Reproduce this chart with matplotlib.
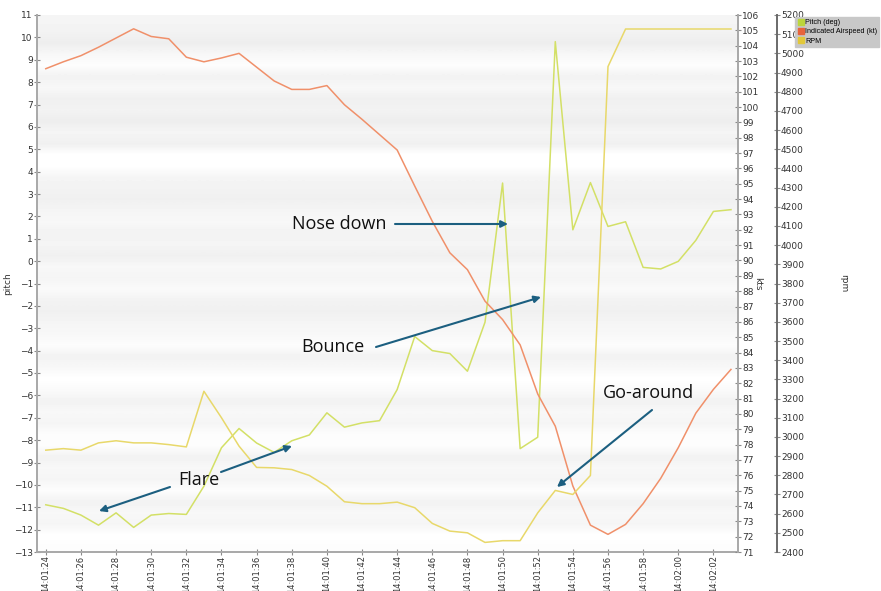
import numpy as np
import matplotlib
matplotlib.use("Agg")
import matplotlib.pyplot as plt
from matplotlib.lines import Line2D
from matplotlib.patches import FancyArrowPatch

# --- data (one sample per second, 14:01:24 .. 14:02:03) ---
times = ["14:01:%02d" % s for s in range(24, 60)] + ["14:02:%02d" % s for s in range(0, 4)]

pitch = [-10.89, -11.05, -11.35, -11.8, -11.25, -11.9, -11.35, -11.28, -11.32, -10.06,
         -8.34, -7.48, -8.13, -8.55, -8.03, -7.77, -6.78, -7.42, -7.23, -7.13,
         -5.74, -3.37, -4.0, -4.13, -4.92, -2.73, 3.49, -8.38, -7.87, 9.81,
         1.4, 3.51, 1.55, 1.76, -0.28, -0.35, -0.01, 0.93, 2.22, 2.3]

airspeed = [102.5, 102.95, 103.35, 103.9, 104.5, 105.1, 104.6, 104.45, 103.25, 102.95,
            103.2, 103.5, 102.6, 101.7, 101.15, 101.15, 101.4, 100.15, 99.2, 98.2,
            97.2, 94.85, 92.55, 90.5, 89.4, 87.35, 86.15, 84.5, 81.3, 79.2,
            75.3, 72.75, 72.15, 72.8, 74.15, 75.8, 77.8, 80.05, 81.6, 82.9]

rpm = [2931, 2939, 2931, 2969, 2980, 2969, 2969, 2960, 2948, 3238,
       3100, 2952, 2841, 2839, 2830, 2799, 2743, 2662, 2652, 2652,
       2660, 2631, 2549, 2509, 2500, 2450, 2459, 2459, 2604, 2721,
       2700, 2799, 4931, 5127, 5127, 5127, 5127, 5127, 5127, 5127]

series_names = ["Pitch (deg)", "Indicated Airspeed (kt)", "RPM"]
line_colors = ["#d3e066", "#f0906a", "#e8d86a"]
legend_colors = ["#bcd63c", "#e8643c", "#e2c83a"]

# background stripes (gray level per half pitch unit, from top to bottom)
stripes = [0.96, 0.95, 0.93, 0.97, 0.99, 0.95, 0.97, 0.94, 0.95, 0.93,
           0.96, 0.94, 1.00, 1.00, 0.96, 0.95, 0.94, 0.96, 0.97, 0.95,
           0.96, 0.94, 0.97, 0.96, 0.98, 0.95, 0.94, 0.96, 0.97, 0.99,
           0.95, 0.97, 1.00, 0.98, 0.95, 0.97, 0.96, 0.99, 0.99, 0.95,
           0.97, 0.96, 0.99, 0.95, 0.97, 0.96, 1.00, 0.99]

x = np.arange(len(times))
W, H = 881, 591
fig = plt.figure(figsize=(W / 100, H / 100), dpi=100)
ax = fig.add_axes([37 / W, 1 - 552 / H, (738 - 37) / W, (552 - 15) / H])

tick_col = "#333333"
spine_col = "#8a8a8a"

ax.imshow(np.array(stripes).reshape(-1, 1), cmap="gray", vmin=0, vmax=1,
          extent=[-0.5, len(times) - 0.6, -13, 11], aspect="auto", zorder=0,
          interpolation="bilinear")
ax.set_xlim(-0.5, len(times) - 0.6)
ax.set_ylim(-13, 11)

ax.plot(x, pitch, color=line_colors[0], lw=1.1, zorder=3)

ax2 = ax.twinx()
ax2.plot(x, airspeed, color=line_colors[1], lw=1.1)
ax2.set_ylim(71, 106)

ax3 = ax.twinx()
ax3.plot(x, rpm, color=line_colors[2], lw=1.1)
ax3.set_ylim(2400, 5200)
ax3.spines["right"].set_position(("outward", 28))

ax.set_yticks(range(-13, 12))
ax2.set_yticks(range(71, 107))
ax3.set_yticks(range(2400, 5201, 100))
ax.set_xticks(x[::2])
ax.set_xticklabels(times[::2], rotation=90)

for a in (ax, ax2, ax3):
    for s in a.spines.values():
        s.set_visible(False)
    a.tick_params(labelsize=6.5, colors=tick_col, direction="inout", length=4,
                  width=0.8, pad=1)
    a.tick_params(color=spine_col)
ax.tick_params(axis="x", pad=0.5, labelsize=6)
ax.spines["left"].set_visible(True)
ax.spines["bottom"].set_visible(True)
ax2.spines["right"].set_visible(True)
ax3.spines["right"].set_visible(True)
for s in (ax.spines["left"], ax.spines["bottom"], ax2.spines["right"]):
    s.set_color("#a8a8a8")
    s.set_linewidth(1.4)
ax3.spines["right"].set_color("#6a6a6a")
ax3.spines["right"].set_linewidth(1.4)

ax.set_ylabel("pitch", fontsize=6.5, color=tick_col)
ax2.set_ylabel("kts", fontsize=6.5, color=tick_col, rotation=270)
ax3.set_ylabel("rpm", fontsize=6.5, color=tick_col, rotation=270)
span = 738 - 37
ax.yaxis.set_label_coords((12 - 37) / span, 0.5)
ax2.yaxis.set_label_coords((762 - 37) / span, 0.5)
ax3.yaxis.set_label_coords((848 - 37) / span, 0.5)

# legend
handles = [Line2D([], [], marker="s", ls="", color=c, markersize=4.2) for c in legend_colors]
leg = fig.legend(handles, series_names, loc="upper left",
                 bbox_to_anchor=(795 / W, 1 - 17 / H),
                 prop={"family": "Liberation Sans", "size": 5.2},
                 frameon=True, fancybox=False, borderpad=0.3, labelspacing=0.3,
                 handletextpad=0.1, handlelength=1.0, borderaxespad=0)
leg.get_frame().set_facecolor("#c8c8c8")
leg.get_frame().set_edgecolor("#c8c8c8")
leg.get_frame().set_alpha(1)


# annotations in figure pixels
def fp(px, py):
    return (px / W, 1 - py / H)


arrow_col = "#1c5f80"
font = dict(fontsize=13, family=["Open Sans", "DejaVu Sans"], color="#111111")
fig.text(*fp(339, 224), "Nose down", ha="center", va="center", **font)
fig.text(*fp(333, 347), "Bounce", ha="center", va="center", **font)
fig.text(*fp(199, 480), "Flare", ha="center", va="center", **font)
fig.text(*fp(648, 393), "Go-around", ha="center", va="center", **font)

arrows = [((395, 224), (508, 224)),
          ((376, 347), (541, 297)),
          ((170, 487), (99, 511)),
          ((221, 472), (292, 446)),
          ((652, 410), (557, 487))]
for start, end in arrows:
    fig.add_artist(FancyArrowPatch(
        fp(*start), fp(*end), transform=fig.transFigure,
        arrowstyle="-|>,head_length=4,head_width=2", color=arrow_col, lw=1.5,
        shrinkA=0, shrinkB=0))

fig.savefig("out.png", dpi=100)
